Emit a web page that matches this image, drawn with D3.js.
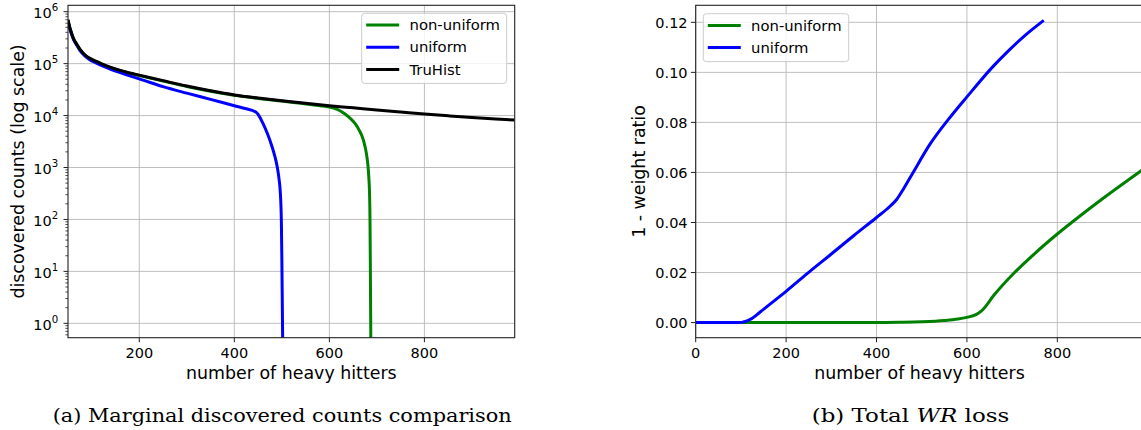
<!DOCTYPE html>
<html>
<head>
<meta charset="utf-8">
<script src="https://cdn.jsdelivr.net/npm/d3@7"></script>
<style>
  html, body { margin: 0; padding: 0; background: #fff; }
  svg { display: block; }
  text { font-family: "DejaVu Sans", sans-serif; fill: #000; }
  .caption { font-family: "DejaVu Serif", "Liberation Serif", serif; }
</style>
</head>
<body>
<svg id="fig" width="1141" height="430"></svg>
<script>
// ---- (a) marginal discovered counts per heavy-hitter rank ----
const hhTru  = [50,53,57,62,68,75,85,95,110,120,140,160,180,200,250,300,350,400,450,500,550,600,650,700,750,800,850,900,950,990];
const cntTru = [7.0e5,5.3e5,4.0e5,3.0e5,2.4e5,1.9e5,1.5e5,1.28e5,1.1e5,1.0e5,8.5e4,7.4e4,6.6e4,6.0e4,4.7e4,3.7e4,3.0e4,2.5e4,2.18e4,1.93e4,1.72e4,1.55e4,1.41e4,1.28e4,1.17e4,1.07e4,9.9e3,9.2e3,8.6e3,8.2e3];

const hhNon  = [50,53,57,62,68,75,85,95,110,120,140,160,180,200,250,300,350,400,450,500,540,560,580,600,615,625,633,645,655,663,669,674,678,681,683,684.5,685.5,686.3,687,687.6];
const cntNon = [6.9e5,5.2e5,3.95e5,2.95e5,2.36e5,1.87e5,1.48e5,1.26e5,1.08e5,9.8e4,8.35e4,7.3e4,6.5e4,5.9e4,4.62e4,3.64e4,2.95e4,2.46e4,2.14e4,1.9e4,1.72e4,1.64e4,1.55e4,1.46e4,1.334e4,1.202e4,1.072e4,8.61e3,6.84e3,5.19e3,3.94e3,2.79e3,1.84e3,1.135e3,653,327,100,10,1,0.1];

const hhUni  = [50,53,57,62,68,75,85,95,110,120,140,160,180,200,250,300,350,400,425,443,447,452,460,470,478,485,490,494,497,499,500,501,502];
const cntUni = [6.6e5,5.0e5,3.8e5,2.85e5,2.3e5,1.8e5,1.42e5,1.2e5,1.02e5,9.3e4,7.8e4,6.7e4,5.8e4,5.1e4,3.6e4,2.7e4,2.05e4,1.55e4,1.35e4,1.202e4,1.135e4,9.89e3,7.16e3,4.42e3,2.75e3,1.68e3,1.06e3,610,305,89,17.8,2.24,0.28];

// ---- (b) total weight-ratio loss ----
const hhLossUni = [0,50,98,105,115,125,135,150,175,200,250,300,350,400,430,445,460,481,518,559,600,658,690,730,770];
const lossUni   = [0,0,0,0.0002,0.0008,0.0017,0.0031,0.0053,0.0089,0.0125,0.0201,0.0274,0.0348,0.042,0.0465,0.0493,0.0535,0.060,0.0712,0.0812,0.0902,0.1024,0.1083,0.115,0.1208];
const hhLossNon = [0,100,200,300,400,450,500,550,580,600,620,633,660,700,750,800,850,900,950,990];
const lossNon   = [0,0,0,0,0,0.0001,0.0003,0.0008,0.0014,0.0021,0.0032,0.0048,0.011,0.019,0.0276,0.0354,0.0426,0.0495,0.0561,0.0613];

const xTicksA = [200,400,600,800];
const xTicksB = [0,200,400,600,800];
const yTicksB = [0,0.02,0.04,0.06,0.08,0.10,0.12];
const decades = [0,1,2,3,4,5,6];

const seriesA = [
  {name: "non-uniform", color: "green", x: hhNon, y: cntNon},
  {name: "uniform",     color: "blue",  x: hhUni, y: cntUni},
  {name: "TruHist",     color: "black", x: hhTru, y: cntTru}
];
const seriesB = [
  {name: "non-uniform", color: "green", x: hhLossNon, y: lossNon},
  {name: "uniform",     color: "blue",  x: hhLossUni, y: lossUni}
];

const svg = d3.select("#fig");
const GRID = "#b8b8b8", SPINE = "#222";
const TICK_FS = 14.5, LABEL_FS = 17.4, LEG_FS = 14.8;

function drawLegend(g, items, x0, y0, w) {
  const rowH = 22.2;
  const h = items.length * rowH + 3.5;
  g.append("rect").attr("x", x0).attr("y", y0).attr("width", w).attr("height", h)
    .attr("rx", 3).attr("fill", "#fff").attr("fill-opacity", 0.8)
    .attr("stroke", "#cccccc").attr("stroke-width", 1);
  items.forEach((s, i) => {
    const cy = y0 + 11.7 + i * rowH;
    g.append("line").attr("x1", x0 + 4.5).attr("x2", x0 + 37.5)
      .attr("y1", cy).attr("y2", cy).attr("stroke", s.color).attr("stroke-width", 3);
    g.append("text").attr("x", x0 + 47.8).attr("y", cy + 5.2)
      .attr("font-size", LEG_FS).text(s.name);
  });
}

// ================= Panel (a) =================
{
  const L = 68, R = 514.7, T = 5.3, B = 337.7;
  const x = d3.scaleLinear().domain([50, 990]).range([L, R]);
  const y = d3.scaleLog().domain([Math.pow(10, -0.277), Math.pow(10, 6.123)]).range([B, T]);
  const g = svg.append("g");

  g.append("clipPath").attr("id", "clipA").append("rect")
    .attr("x", L).attr("y", T).attr("width", R - L).attr("height", B - T);

  // grid
  xTicksA.forEach(v => g.append("line").attr("x1", x(v)).attr("x2", x(v))
    .attr("y1", T).attr("y2", B).attr("stroke", GRID).attr("stroke-width", 0.9));
  decades.forEach(d => g.append("line").attr("x1", L).attr("x2", R)
    .attr("y1", y(Math.pow(10, d))).attr("y2", y(Math.pow(10, d)))
    .attr("stroke", GRID).attr("stroke-width", 0.9));

  // lines
  const line = d3.line().x(d => x(d[0])).y(d => y(d[1])).curve(d3.curveMonotoneX);
  const lg = g.append("g").attr("clip-path", "url(#clipA)");
  seriesA.forEach(s => {
    lg.append("path").datum(s.x.map((v, i) => [v, s.y[i]]))
      .attr("d", line).attr("fill", "none").attr("stroke", s.color)
      .attr("stroke-width", 3).attr("stroke-linejoin", "round");
  });

  // y ticks: majors + log minors
  const [ymin, ymax] = y.domain();
  for (let d = -1; d <= 6; d++) {
    for (let m = 2; m <= 9; m++) {
      const v = m * Math.pow(10, d);
      if (v < ymin || v > ymax) continue;
      g.append("line").attr("x1", L - 2.6).attr("x2", L).attr("y1", y(v)).attr("y2", y(v))
        .attr("stroke", SPINE).attr("stroke-width", 0.8);
    }
  }
  decades.forEach(d => {
    const yy = y(Math.pow(10, d));
    g.append("line").attr("x1", L - 4.5).attr("x2", L).attr("y1", yy).attr("y2", yy)
      .attr("stroke", SPINE).attr("stroke-width", 1);
    const t = g.append("text").attr("x", 58.3).attr("y", yy + 6.7)
      .attr("text-anchor", "end").attr("font-size", TICK_FS);
    t.append("tspan").text("10");
    t.append("tspan").attr("font-size", 10.2).attr("dy", -6.9).text(String(d));
  });

  // x ticks
  xTicksA.forEach(v => {
    g.append("line").attr("x1", x(v)).attr("x2", x(v)).attr("y1", B).attr("y2", B + 4.5)
      .attr("stroke", SPINE).attr("stroke-width", 1);
    g.append("text").attr("x", x(v)).attr("y", 357.5).attr("text-anchor", "middle")
      .attr("font-size", TICK_FS).text(v);
  });

  // spines
  g.append("rect").attr("x", L).attr("y", T).attr("width", R - L).attr("height", B - T)
    .attr("fill", "none").attr("stroke", SPINE).attr("stroke-width", 1.1);

  // labels
  g.append("text").attr("x", (L + R) / 2).attr("y", 379).attr("text-anchor", "middle")
    .attr("font-size", LABEL_FS).text("number of heavy hitters");
  g.append("text").attr("transform", `translate(24,${(T + B) / 2}) rotate(-90)`)
    .attr("text-anchor", "middle").attr("font-size", LABEL_FS)
    .text("discovered counts (log scale)");

  drawLegend(g, seriesA, 361.7, 13.3, 145);

  g.append("text").attr("class", "caption").attr("x", 52.7).attr("y", 421.5)
    .attr("font-size", 19).attr("textLength", 459).attr("lengthAdjust", "spacingAndGlyphs")
    .text("(a) Marginal discovered counts comparison");
}

// ================= Panel (b) =================
{
  const L = 695.7, R = 1143.2, T = 5.3, B = 337.7;
  const x = d3.scaleLinear().domain([0, 990]).range([L, R]);
  const y = d3.scaleLinear().domain([-0.00604, 0.1268]).range([B, T]);
  const g = svg.append("g");

  g.append("clipPath").attr("id", "clipB").append("rect")
    .attr("x", L).attr("y", T).attr("width", R - L).attr("height", B - T);

  xTicksB.forEach(v => g.append("line").attr("x1", x(v)).attr("x2", x(v))
    .attr("y1", T).attr("y2", B).attr("stroke", GRID).attr("stroke-width", 0.9));
  yTicksB.forEach(v => g.append("line").attr("x1", L).attr("x2", R)
    .attr("y1", y(v)).attr("y2", y(v)).attr("stroke", GRID).attr("stroke-width", 0.9));

  const line = d3.line().x(d => x(d[0])).y(d => y(d[1])).curve(d3.curveMonotoneX);
  const lg = g.append("g").attr("clip-path", "url(#clipB)");
  seriesB.forEach(s => {
    lg.append("path").datum(s.x.map((v, i) => [v, s.y[i]]))
      .attr("d", line).attr("fill", "none").attr("stroke", s.color)
      .attr("stroke-width", 3).attr("stroke-linejoin", "round");
  });

  yTicksB.forEach(v => {
    g.append("line").attr("x1", L - 4.8).attr("x2", L).attr("y1", y(v)).attr("y2", y(v))
      .attr("stroke", SPINE).attr("stroke-width", 1);
    g.append("text").attr("x", 687.6).attr("y", y(v) + 5.3).attr("text-anchor", "end")
      .attr("font-size", TICK_FS).text(v.toFixed(2));
  });
  xTicksB.forEach(v => {
    g.append("line").attr("x1", x(v)).attr("x2", x(v)).attr("y1", B).attr("y2", B + 4.5)
      .attr("stroke", SPINE).attr("stroke-width", 1);
    g.append("text").attr("x", x(v)).attr("y", 357.5).attr("text-anchor", "middle")
      .attr("font-size", TICK_FS).text(v);
  });

  g.append("rect").attr("x", L).attr("y", T).attr("width", R - L).attr("height", B - T)
    .attr("fill", "none").attr("stroke", SPINE).attr("stroke-width", 1.1);

  g.append("text").attr("x", (L + R) / 2).attr("y", 379).attr("text-anchor", "middle")
    .attr("font-size", LABEL_FS).text("number of heavy hitters");
  g.append("text").attr("transform", `translate(645,${(T + B) / 2}) rotate(-90)`)
    .attr("text-anchor", "middle").attr("font-size", LABEL_FS)
    .text("1 - weight ratio");

  drawLegend(g, seriesB, 703.3, 13.7, 145.4);

  const cap = g.append("text").attr("class", "caption").attr("x", 811.7).attr("y", 421.5)
    .attr("font-size", 19).attr("textLength", 197.6).attr("lengthAdjust", "spacingAndGlyphs");
  cap.append("tspan").text("(b) Total ");
  cap.append("tspan").attr("font-style", "italic").text("WR");
  cap.append("tspan").text(" loss");
}
</script>
</body>
</html>
